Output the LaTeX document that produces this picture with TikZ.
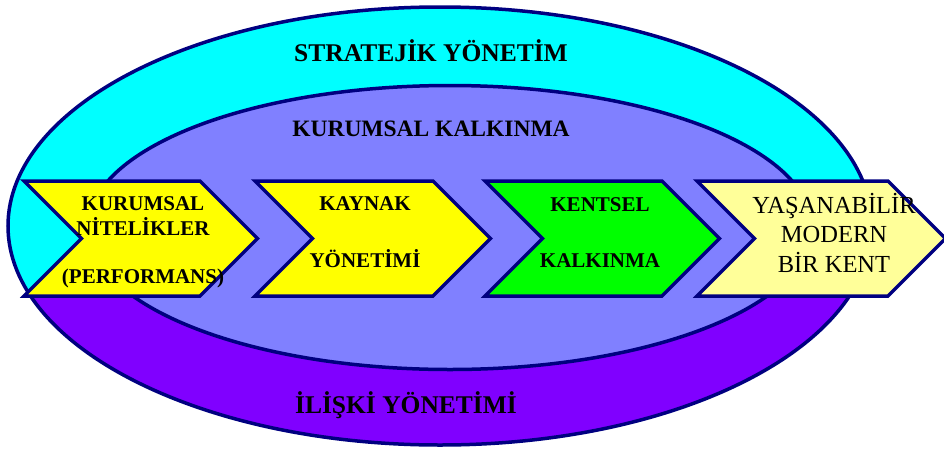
\documentclass[tikz,border=0pt]{standalone}
\usepackage{fontspec}
\setmainfont{Liberation Serif}
\definecolor{stratCyan}{RGB}{0,255,255}
\definecolor{relPurple}{RGB}{128,0,255}
\definecolor{instBlue}{RGB}{128,128,255}
\definecolor{edgeNavy}{RGB}{0,0,128}
\definecolor{resYellow}{RGB}{255,255,0}
\definecolor{urbGreen}{RGB}{0,255,0}
\definecolor{cityCream}{RGB}{255,255,153}

\begin{document}
\begin{tikzpicture}[x=1pt, y=-1pt,
            ring/.style={draw=edgeNavy, line width=3.5pt},
            chevron/.style={draw=edgeNavy, line width=3.5pt, line join=miter},
            chevtext/.style={align=center, inner sep=0pt, font=\fontsize{21}{25}\selectfont\bfseries},
            title/.style={anchor=base, font=\fontsize{25.5}{30}\selectfont\bfseries}
        ]
            \useasboundingbox (0,0) rectangle (944,450);

            % outer ring: cyan above, purple below
            \fill[stratCyan] (440,226) ellipse [x radius=432pt, y radius=219pt];
            \begin{scope}
                \clip (0,297) rectangle (944,450);
                \fill[relPurple] (440,226) ellipse [x radius=432pt, y radius=219pt];
            \end{scope}
            \draw[ring] (440,226) ellipse [x radius=432pt, y radius=219pt];
            \draw[ring, fill=instBlue] (450,227.5) ellipse [x radius=362pt, y radius=142pt];

            \node[title] (strat) at (431,61) {STRATEJİK YÖNETİM};
            \node[title, font=\fontsize{23.5}{28}\selectfont\bfseries] (inst) at (431,136) {KURUMSAL KALKINMA};
            \node[title] (rel) at (406,413) {İLİŞKİ YÖNETİMİ};

            % chevrons
            \draw[chevron, fill=resYellow] (24,181) -- ++(176,0) -- ++(57.5,57.5) -- ++(-57.5,57.5) -- ++(-176,0) -- ++(57.5,-57.5) -- cycle;
            \draw[chevron, fill=resYellow] (255,181) -- ++(178,0) -- ++(57.5,57.5) -- ++(-57.5,57.5) -- ++(-178,0) -- ++(57.5,-57.5) -- cycle;
            \draw[chevron, fill=urbGreen] (485,181) -- ++(177,0) -- ++(57.5,57.5) -- ++(-57.5,57.5) -- ++(-177,0) -- ++(57.5,-57.5) -- cycle;
            \draw[chevron, fill=cityCream] (697,181) -- ++(191,0) -- ++(57.5,57.5) -- ++(-57.5,57.5) -- ++(-191,0) -- ++(57.5,-57.5) -- cycle;

            \node[chevtext] (qualtxt) at (143,242) {KURUMSAL\\NİTELİKLER\\[23pt](PERFORMANS)};
            \node[chevtext] (restxt) at (365,232.5) {KAYNAK\\[32pt]YÖNETİMİ};
            \node[chevtext] (urbtxt) at (600,233) {KENTSEL\\[31pt]KALKINMA};
            \node[chevtext, font=\fontsize{24.5}{29.5}\selectfont] (citytxt) at (834,232.5) {YAŞANABİLİR\\MODERN\\BİR KENT};
        \end{tikzpicture}
\end{document}
